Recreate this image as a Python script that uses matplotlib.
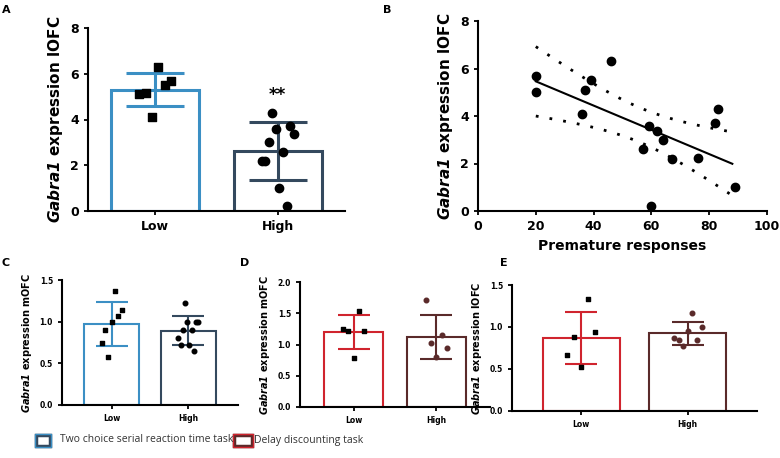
import numpy as np
import matplotlib.pyplot as plt
from matplotlib.patches import Rectangle

# panel A
a_low = [6.3, 5.7, 5.5, 5.15, 5.1, 4.1]
a_high = [4.3, 3.7, 3.6, 3.35, 3.0, 2.6, 2.2, 2.2, 1.0, 0.2]
# panel B
b_x = [20, 20, 36, 37, 39, 46, 57, 59, 60, 62, 64, 67, 76, 82, 83, 89]
b_y = [5.7, 5.0, 4.1, 5.1, 5.5, 6.3, 2.6, 3.6, 0.2, 3.35, 3.0, 2.2, 2.25, 3.7, 4.3, 1.0]
# panels C-E
c_low = [1.37, 1.14, 1.07, 1.0, 0.9, 0.75, 0.58]
c_high = [1.23, 1.0, 1.0, 1.0, 0.9, 0.9, 0.8, 0.72, 0.72, 0.65]
d_low = [1.53, 1.22, 1.22, 1.25, 0.78]
d_high = [1.71, 1.15, 1.02, 0.95, 0.8]
e_low = [1.33, 0.94, 0.88, 0.67, 0.52]
e_high = [1.17, 1.0, 0.95, 0.87, 0.85, 0.85, 0.77]

blue, slate, red, brown = '#3b8fc4', '#34495e', '#d0242e', '#5a2a2a'
W, H = 780, 458
fig = plt.figure(figsize=(7.8, 4.58), dpi=100)

def ax_px(x0, y0, x1, y1):
    return fig.add_axes([x0 / W, 1 - y1 / H, (x1 - x0) / W, (y1 - y0) / H])

def style(ax, fs):
    for s in ['top', 'right']:
        ax.spines[s].set_visible(False)
    for s in ['left', 'bottom']:
        ax.spines[s].set_linewidth(1.5)
    ax.tick_params(labelsize=fs, width=1.3, length=3)
    for t in ax.get_xticklabels() + ax.get_yticklabels():
        t.set_fontweight('bold')

def ylab(ax, region, fs):
    ax.set_ylabel(r'$\mathbfit{Gabra1}$ expression ' + region, fontsize=fs, fontweight='bold')

def barpanel(ax, low, high, cols, ylim, yticks, region, fs, lfs, ms, lw, dotcols):
    for i, (vals, c, m, dc) in enumerate(zip([low, high], cols, ['s', 'o'], dotcols)):
        mean, sd = np.mean(vals), np.std(vals, ddof=1)
        ax.bar(i, mean, 0.72, facecolor='white', edgecolor=c, linewidth=lw, zorder=1)
        ax.errorbar(i, mean, yerr=sd, color=c, capsize=ms * 3.5, elinewidth=lw, capthick=lw, zorder=2)
        off = np.linspace(-0.13, 0.13, len(vals))
        ax.scatter(i + off[np.random.RandomState(i + 3).permutation(len(vals))], vals,
                   marker=m, s=ms ** 2, color=dc, zorder=3)
    ax.set_xlim(-0.55, 1.55)
    ax.set_ylim(*ylim)
    ax.set_yticks(yticks)
    ax.set_xticks([0, 1], ['Low', 'High'])
    ylab(ax, region, lfs)
    style(ax, fs)

axA = ax_px(88, 28, 345, 211)
barpanel(axA, a_low, a_high, [blue, slate], (0, 8), [0, 2, 4, 6, 8], 'lOFC', 9, 11, 6, 2.2, ['black', 'black'])
axA.text(1, 4.85, '**', ha='center', fontsize=12, fontweight='bold')

axB = ax_px(478, 21, 767, 211)
axB.scatter(b_x, b_y, color='black', s=36, zorder=3)
xs = np.linspace(20, 88, 50)
X = np.array(b_x); Y = np.array(b_y)
k, b = np.polyfit(X, Y, 1)
n = len(X)
res = Y - (k * X + b)
se = np.sqrt(np.sum(res ** 2) / (n - 2))
ci = 2.145 * se * np.sqrt(1 / n + (xs - X.mean()) ** 2 / np.sum((X - X.mean()) ** 2))
axB.plot(xs, k * xs + b, color='black', lw=1.5)
axB.plot(xs, k * xs + b + ci, color='black', lw=2, ls=(0, (1, 4)))
axB.plot(xs, k * xs + b - ci, color='black', lw=2, ls=(0, (1, 4)))
axB.set_xlim(0, 100); axB.set_ylim(0, 8)
axB.set_yticks([0, 2, 4, 6, 8])
axB.set_xlabel('Premature responses', fontsize=10, fontweight='bold')
ylab(axB, 'lOFC', 11)
style(axB, 9)

axC = ax_px(62, 280, 238, 405)
barpanel(axC, c_low, c_high, [blue, slate], (0, 1.5), [0, 0.5, 1.0, 1.5], 'mOFC', 5.5, 7, 3.3, 1.5, ['black', 'black'])
axD = ax_px(300, 282, 490, 407)
barpanel(axD, d_low, d_high, [red, brown], (0, 2.0), [0, 0.5, 1.0, 1.5, 2.0], 'mOFC', 5.5, 7, 3.3, 1.5, ['black', brown])
axE = ax_px(512, 285, 757, 411)
barpanel(axE, e_low, e_high, [red, brown], (0, 1.5), [0, 0.5, 1.0, 1.5], 'lOFC', 5.5, 7, 3.3, 1.5, ['black', brown])
for ax in [axC, axD, axE]:
    ax.set_xlim(-0.65, 1.65)

for lab, x, y in [('A', 2, 10), ('B', 383, 10), ('C', 2, 263), ('D', 240, 263), ('E', 500, 263)]:
    fig.text(x / W, 1 - y / H, lab, fontsize=8, fontweight='bold', va='center')

# legend boxes
fig.patches.append(Rectangle((36 / W, 1 - 446 / H), 14 / W, 11 / H, transform=fig.transFigure,
                             facecolor='white', edgecolor=slate, lw=2.5))
fig.patches.append(Rectangle((35 / W, 1 - 447 / H), 16 / W, 13 / H, transform=fig.transFigure,
                             facecolor='none', edgecolor=blue, lw=1))
fig.text(60 / W, 1 - 440 / H, 'Two choice serial reaction time task', fontsize=7.5,
         family='Open Sans', va='center', color='#333333')
fig.patches.append(Rectangle((234 / W, 1 - 446 / H), 18 / W, 11 / H, transform=fig.transFigure,
                             facecolor='white', edgecolor=brown, lw=2.5))
fig.patches.append(Rectangle((233 / W, 1 - 447 / H), 20 / W, 13 / H, transform=fig.transFigure,
                             facecolor='none', edgecolor=red, lw=1))
fig.text(254 / W, 1 - 440 / H, 'Delay discounting task', fontsize=7.5,
         family='Open Sans', va='center', color='#333333')

fig.savefig('out.png', dpi=100)
